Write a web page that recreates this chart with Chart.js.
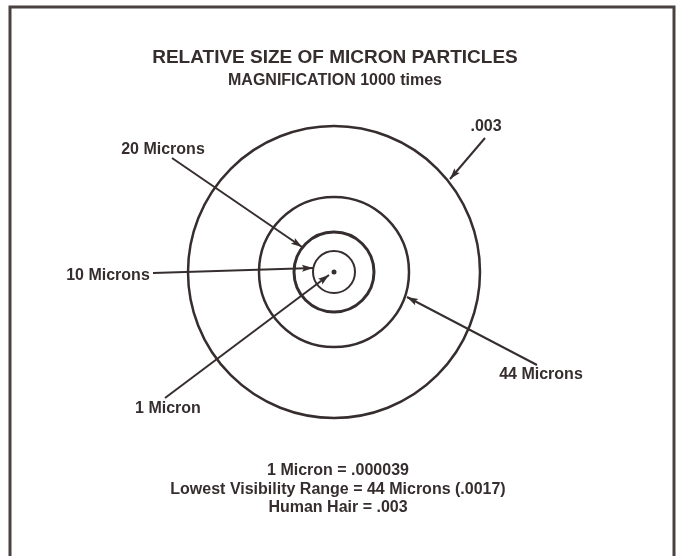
<!DOCTYPE html>
<html>
<head>
<meta charset="utf-8">
<script src="https://cdn.jsdelivr.net/npm/chart.js@4.4.1/dist/chart.umd.min.js"></script>
<style>
  html, body { margin: 0; padding: 0; background: #fff; }
  #wrap { width: 685px; height: 556px; }
</style>
</head>
<body>
<div id="wrap"><canvas id="myChart"></canvas></div>
<script>
// particle sizes, drawn radius (drawing units, centre = 0,0)
const sizeLabels = ["1 Micron", "10 Microns", "20 Microns", "44 Microns", ".003"];
const radii = [2.5, 21, 40, 75, 146];

// arrow for each label: start (near text) and tip (on the circle)
const arrowStartX = [-169, -181, -162, 203, 151];
const arrowStartY = [-126, -1, 114, -93, 134];
const arrowTipX = [-5, -21, -32, 73, 116];
const arrowTipY = [-3, 4, 25, -25, 93];

// where the label text sits
const labelX = [-166, -226, -171, 207, 152];
const labelY = [-137, -4, 122, -103, 145];

const titleText = "RELATIVE SIZE OF MICRON PARTICLES";
const subtitleText = "MAGNIFICATION 1000 times";
const notes = [
  "1 Micron = .000039",
  "Lowest Visibility Range = 44 Microns (.0017)",
  "Human Hair = .003",
];

const ink = "#362e2e";
const fontFamily = "'Liberation Sans', Arial, Helvetica, sans-serif";

// circles are points whose radius comes from the x scale
const circleData = radii.map((r) => ({ x: 0, y: 0, r: r }));

const arrowSets = sizeLabels.map((label, i) => ({
  label: label + " arrow",
  data: [
    { x: arrowStartX[i], y: arrowStartY[i] },
    { x: arrowTipX[i], y: arrowTipY[i] },
  ],
  showLine: true,
  borderColor: ink,
  borderWidth: 2,
  pointRadius: 0,
  isArrow: true,
}));

const framePlugin = {
  id: "frame",
  beforeDraw(chart) {
    const c = chart.ctx;
    c.save();
    c.fillStyle = "#fff";
    c.fillRect(0, 0, chart.width, chart.height);
    c.strokeStyle = "#4a4141";
    c.lineWidth = 3;
    c.strokeRect(10, 7, chart.width - 21, chart.height + 10);
    c.restore();
  },
};

const arrowHeads = {
  id: "arrowHeads",
  afterDatasetsDraw(chart) {
    const c = chart.ctx;
    chart.data.datasets.forEach((ds, i) => {
      if (!ds.isArrow) return;
      const pts = chart.getDatasetMeta(i).data;
      const a = pts[0];
      const b = pts[1];
      const ang = Math.atan2(b.y - a.y, b.x - a.x);
      const len = 11;
      const half = 3.5;
      c.save();
      c.translate(b.x, b.y);
      c.rotate(ang);
      c.fillStyle = ink;
      c.beginPath();
      c.moveTo(0, 0);
      c.lineTo(-len, -half);
      c.lineTo(-len + 2, 0);
      c.lineTo(-len, half);
      c.closePath();
      c.fill();
      c.restore();
    });
  },
};

const textPlugin = {
  id: "texts",
  afterDraw(chart) {
    const c = chart.ctx;
    const x = chart.scales.x;
    const y = chart.scales.y;
    c.save();
    c.fillStyle = ink;
    c.textAlign = "center";
    c.textBaseline = "middle";

    c.font = "bold 19px " + fontFamily;
    c.fillText(titleText, x.getPixelForValue(1), y.getPixelForValue(214));
    c.font = "bold 16px " + fontFamily;
    c.fillText(subtitleText, x.getPixelForValue(1), y.getPixelForValue(191));

    c.font = "bold 16px " + fontFamily;
    sizeLabels.forEach((label, i) => {
      c.fillText(label, x.getPixelForValue(labelX[i]), y.getPixelForValue(labelY[i]));
    });

    c.font = "bold 16px " + fontFamily;
    notes.forEach((line, i) => {
      c.fillText(line, x.getPixelForValue(4), y.getPixelForValue(-199 - i * 18.5));
    });
    c.restore();
  },
};

const ctx = document.querySelector("#myChart").getContext("2d");
const chart = new Chart(ctx, {
  type: "scatter",
  data: {
    datasets: [
      {
        label: "Particle size",
        data: circleData,
        pointStyle: "circle",
        pointRadius: (c) => {
          const sx = c.chart.scales.x;
          return Math.abs(sx.getPixelForValue(c.raw.r) - sx.getPixelForValue(0));
        },
        pointBorderWidth: [0, 2, 3, 2.5, 2.5],
        pointBorderColor: ink,
        pointBackgroundColor: [ink, "transparent", "transparent", "transparent", "transparent"],
      },
      ...arrowSets,
    ],
  },
  options: {
    responsive: true,
    maintainAspectRatio: false,
    animation: false,
    events: [],
    layout: { padding: 0 },
    scales: {
      x: { type: "linear", display: false, min: -334, max: 351 },
      y: { type: "linear", display: false, min: -284, max: 272 },
    },
    plugins: {
      legend: { display: false },
      tooltip: { enabled: false },
    },
  },
  plugins: [framePlugin, arrowHeads, textPlugin],
});
</script>
</body>
</html>
